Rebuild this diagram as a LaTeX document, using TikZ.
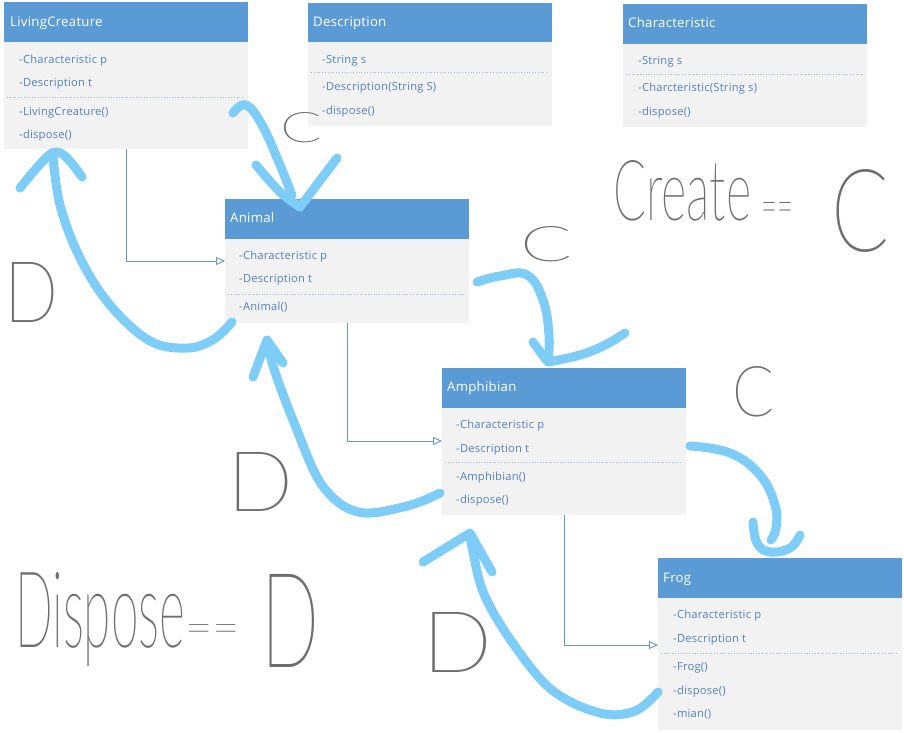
\documentclass[tikz,border=0pt]{standalone}
\usepackage{fontspec}
\newfontfamily\umlfont{Open Sans}[LetterSpace=2]
\newif\ifhairline
\IfFontExistsTF{Lato-Thin.ttf}
  {\newfontfamily\handfnt{Lato-Thin.ttf}}
  {\IfFontExistsTF{Lato-Hairline.ttf}
    {\newfontfamily\handfnt{Lato-Hairline.ttf}\hairlinetrue}
    {\newfontfamily\handfnt{lmmonolt10-regular.otf}}}
\usetikzlibrary{arrows.meta}
\definecolor{hdrblue}{RGB}{91,155,213}
\definecolor{bodygray}{RGB}{242,242,242}
\definecolor{itemblue}{RGB}{84,130,190}
\definecolor{seplc}{RGB}{157,185,214}
\definecolor{linkblue}{RGB}{100,150,200}
\definecolor{sky}{RGB}{125,205,248}
\ifhairline
  \definecolor{handgray}{RGB}{85,85,85}
\else
  \definecolor{handgray}{RGB}{110,110,110}
\fi
\newcommand\hw[3]{\resizebox{#1pt}{#2pt}{\handfnt #3}}
\begin{document}
\begin{tikzpicture}[x=1pt,y=-1pt,
  hdr/.style={fill=hdrblue, draw=none, anchor=north west, minimum width=244pt, minimum height=40pt, inner sep=0pt},
  body/.style={fill=bodygray, draw=none, anchor=north west, minimum width=244pt, inner sep=0pt},
  htext/.style={anchor=west, text=white, font=\umlfont\fontsize{13.2}{15}\selectfont, inner sep=0pt, text height=0.72em, text depth=0pt},
  itext/.style={anchor=west, text=itemblue, font=\umlfont\fontsize{11.2}{13}\selectfont, inner sep=0pt, text height=0.72em, text depth=0pt},
  sep/.style={draw=seplc, dotted, line width=0.8pt},
  inh/.style={draw=linkblue, line width=0.9pt, -{Triangle[open, length=9pt, width=8pt]}},
  stroke/.style={draw=sky, line width=9pt, line cap=round, line join=round},
  hand/.style={text=handgray, inner sep=0pt}]
\useasboundingbox[fill=white] (0,0) rectangle (904,732);

% LivingCreature
\node[hdr] (lcH) at (4,2) {};
\node[body, minimum height=107pt] (lcB) at (4,42) {};
\node[htext] (lcT) at (10,23) {LivingCreature};
\node[itext] (lc1) at (19,60) {-Characteristic p};
\node[itext] (lc2) at (19,83) {-Description t};
\draw[sep] (7,97) -- (245,97);
\node[itext] (lc3) at (19,112) {-LivingCreature()};
\node[itext] (lc4) at (19,135) {-dispose()};

% Description
\node[hdr] (dsH) at (308,3) {};
\node[body, minimum height=84pt] (dsB) at (308,42) {};
\node[htext] (dsT) at (313,23) {Description};
\node[itext] (ds1) at (322,60) {-String s};
\draw[sep] (311,72) -- (549,72);
\node[itext] (ds2) at (322,87) {-Description(String S)};
\node[itext] (ds3) at (322,111) {-dispose()};

% Characteristic
\node[hdr] (chH) at (623,4) {};
\node[body, minimum height=83pt] (chB) at (623,44) {};
\node[htext] (chT) at (628,24) {Characteristic};
\node[itext] (ch1) at (638,61) {-String s};
\draw[sep] (626,74) -- (864,74);
\node[itext] (ch2) at (638,88) {-Charcteristic(String s)};
\node[itext] (ch3) at (638,112) {-dispose()};

% Animal
\node[hdr] (anH) at (225,199) {};
\node[body, minimum height=84pt] (anB) at (225,239) {};
\node[htext] (anT) at (230,219) {Animal};
\node[itext] (an1) at (239,256) {-Characteristic p};
\node[itext] (an2) at (239,279) {-Description t};
\draw[sep] (228,294) -- (466,294);
\node[itext] (an3) at (239,307) {-Animal()};

% Amphibian
\node[hdr] (amH) at (442,368) {};
\node[body, minimum height=107pt] (amB) at (442,408) {};
\node[htext] (amT) at (447,388) {Amphibian};
\node[itext] (am1) at (456,425) {-Characteristic p};
\node[itext] (am2) at (456,449) {-Description t};
\draw[sep] (445,462) -- (683,462);
\node[itext] (am3) at (456,477) {-Amphibian()};
\node[itext] (am4) at (456,500) {-dispose()};

% Frog
\node[hdr] (frH) at (658,558) {};
\node[body, minimum height=132pt] (frB) at (658,598) {};
\node[htext] (frT) at (663,579) {Frog};
\node[itext] (fr1) at (673,615) {-Characteristic p};
\node[itext] (fr2) at (673,639) {-Description t};
\draw[sep] (661,653) -- (899,653);
\node[itext] (fr3) at (673,667) {-Frog()};
\node[itext] (fr4) at (673,691) {-dispose()};
\node[itext] (fr5) at (673,714) {-mian()};

% inheritance connectors
\draw[inh] (lcB.south) |- (anB.west |- 0,261);
\draw[inh] (anB.south) |- (amB.west |- 0,441);
\draw[inh] (amB.south) |- (frB.west |- 0,645);

% handwriting
\node[hand] (hC1) at (302,128) {\hw{42}{30}{C}};
\node[hand] (hC2) at (547,244) {\hw{52}{35}{C}};
\node[hand] (hC3) at (753,392) {\hw{42}{50}{C}};
\node[hand] (hD1) at (32,292) {\hw{54}{60}{D}};
\node[hand] (hD2) at (261,482) {\hw{66}{59}{D}};
\node[hand] (hD3) at (457,642) {\hw{70}{60}{D}};
\node[hand, anchor=base west] (hCr) at (613,220) {\hw{138}{60}{Create}};
\node[hand, anchor=south west] (hCeq) at (761,224) {\hw{32}{21}{==}};
\node[hand] (hCC) at (860,211) {\hw{58}{82}{C}};
\node[hand, anchor=base west] (hDi) at (15,647) {\hw{170}{75}{Dispose}};
\node[hand, anchor=south west] (hDeq) at (185,644) {\hw{55}{19}{==}};
\node[hand] (hDD) at (291,621) {\hw{58}{93}{D}};

% blue strokes
\draw[stroke] plot[smooth, tension=0.7] coordinates {(233,113) (246,105) (262,125) (280,165) (292,195)};
\draw[stroke] plot[smooth, tension=0.6] coordinates {(256,165) (280,192) (300,207)};
\draw[stroke] (300,207) -- (337,158);

\draw[stroke] plot[smooth, tension=0.6] coordinates {(232,322) (214,339) (188,348) (150,341) (110,305) (80,258) (60,205) (53,156)};
\draw[stroke] plot[smooth, tension=0.6] coordinates {(20,188) (42,162) (55,152) (67,158) (82,177)};

\draw[stroke] plot[smooth, tension=0.7] coordinates {(477,282) (500,276) (527,275) (543,300) (549,335) (548,360)};
\draw[stroke] (533,342) -- (546,360);
\draw[stroke] plot[smooth, tension=0.7] coordinates {(548,362) (580,355) (605,345) (625,333)};

\draw[stroke] plot[smooth, tension=0.6] coordinates {(440,493) (407,506) (358,512) (322,485) (295,425) (275,372) (267,342)};
\draw[stroke] (253,377) -- (267,340) -- (283,363);

\draw[stroke] plot[smooth, tension=0.7] coordinates {(690,446) (730,453) (760,475) (775,505) (776,528) (771,540)};
\draw[stroke] plot[smooth, tension=0.7] coordinates {(753,522) (757,543) (770,552) (790,548) (800,535)};

\draw[stroke] plot[smooth, tension=0.6] coordinates {(658,692) (635,711) (600,713) (552,690) (512,642) (484,594) (473,552) (470,535)};
\draw[stroke] (423,562) -- (470,533) -- (492,572);
\end{tikzpicture}
\end{document}
